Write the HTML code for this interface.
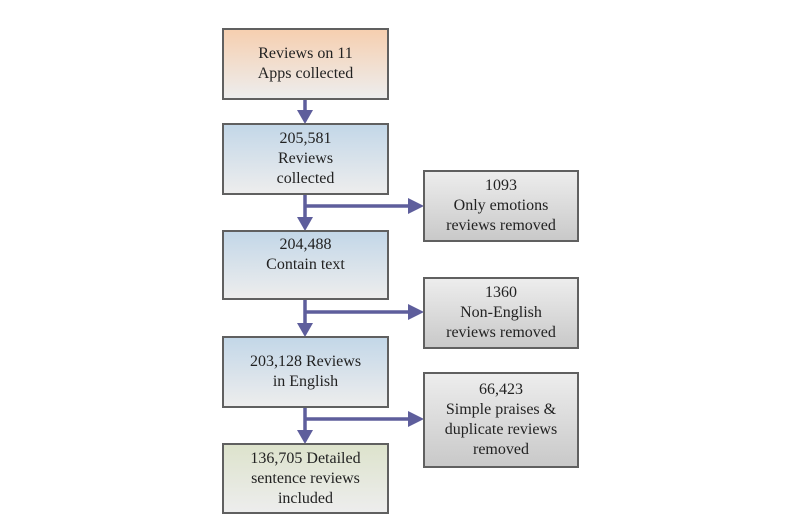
<!DOCTYPE html>
<html><head><style>
body{margin:0;width:800px;height:532px;background:#fff;position:relative;font-family:"Liberation Serif",serif;}
.b{position:absolute;box-sizing:border-box;border:2px solid #606060;display:flex;align-items:center;justify-content:center;text-align:center;font-size:16px;line-height:20px;color:#222;}
.o{background:linear-gradient(#f6cfb0,#ededed);}
.bl{background:linear-gradient(#c3d7e8,#ededed);}
.g{background:linear-gradient(#ededed,#c9c9c9);}
.gr{background:linear-gradient(#dde3cc,#ededed);}
svg{position:absolute;left:0;top:0}
</style></head><body>
<svg width="800" height="532">
<g stroke="#5e5e9c" stroke-width="3.5" fill="none">
<line x1="305" y1="99" x2="305" y2="112"/>
<line x1="305" y1="194" x2="305" y2="220"/>
<line x1="305" y1="206" x2="410" y2="206"/>
<line x1="305" y1="299" x2="305" y2="326"/>
<line x1="305" y1="312" x2="410" y2="312"/>
<line x1="305" y1="407" x2="305" y2="432"/>
<line x1="305" y1="419" x2="410" y2="419"/>
</g>
<g fill="#5e5e9c">
<polygon points="297,110 313,110 305,124"/>
<polygon points="297,217 313,217 305,231"/>
<polygon points="297,323 313,323 305,337"/>
<polygon points="297,430 313,430 305,444"/>
<polygon points="408,198 408,214 424,206"/>
<polygon points="408,304 408,320 424,312"/>
<polygon points="408,411 408,427 424,419"/>
</g>
</svg>
<div class="b o" style="left:222px;top:28px;width:167px;height:72px">Reviews on 11<br>Apps collected</div>
<div class="b bl" style="left:222px;top:123px;width:167px;height:72px">205,581<br>Reviews<br>collected</div>
<div class="b bl" style="left:222px;top:230px;width:167px;height:70px">204,488<br>Contain text<br>&nbsp;</div>
<div class="b bl" style="left:222px;top:336px;width:167px;height:72px">203,128 Reviews<br>in English</div>
<div class="b gr" style="left:222px;top:443px;width:167px;height:71px">136,705 Detailed<br>sentence reviews<br>included</div>
<div class="b g" style="left:423px;top:170px;width:156px;height:72px">1093<br>Only emotions<br>reviews removed</div>
<div class="b g" style="left:423px;top:277px;width:156px;height:72px">1360<br>Non-English<br>reviews removed</div>
<div class="b g" style="left:423px;top:372px;width:156px;height:96px">66,423<br>Simple praises &amp;<br>duplicate reviews<br>removed</div>
</body></html>
